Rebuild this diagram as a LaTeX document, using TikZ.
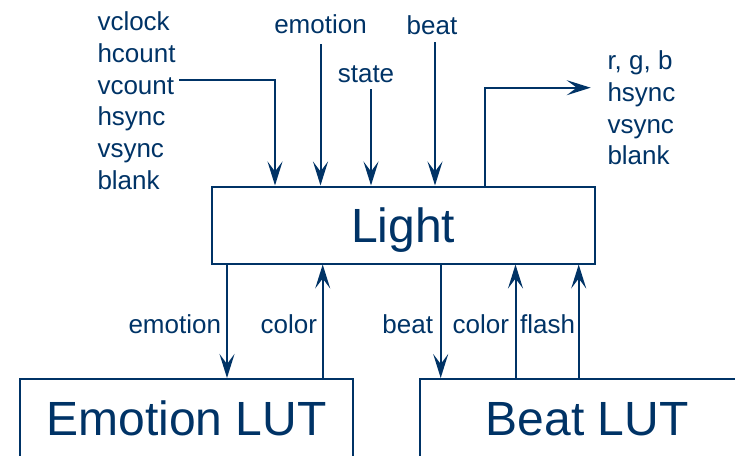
\documentclass[tikz,border=0pt]{standalone}
\usepackage{fontspec}
\setmainfont{Liberation Sans}
\usetikzlibrary{arrows.meta}
\definecolor{navy}{RGB}{0,51,102}
\begin{document}
\begin{tikzpicture}[x=1pt,y=-1pt,line width=2pt,draw=navy,
  every node/.style={text=navy,inner sep=0pt},
  sm/.style={font=\fontsize{26}{31.8}\selectfont},
  big/.style={font=\fontsize{48}{56}\selectfont,text height=34.5pt,text depth=0pt},
  blk/.style={draw=navy,line width=2pt,rectangle,minimum height=78pt},
  arr/.style={draw=navy,line width=2pt,-{Stealth[length=24pt,width=15pt,inset=10pt]}}]
\useasboundingbox (0,0) rectangle (735,455);
\clip (0,0) rectangle (735,455);

% boxes
\node[blk,big,minimum width=383pt,minimum height=77pt] (light) at (403.25,225) {Light};
\node[blk,big,minimum width=333pt] (elut) at (186.5,418) {Emotion LUT};
\node[blk,big,minimum width=334pt] (blut) at (587,418) {Beat LUT};

% top labels
\node[sm,anchor=north west,align=left] (inl) at (96.5,10.7) {vclock\\hcount\\vcount\\hsync\\vsync\\blank};
\node[sm,anchor=north west,align=left] (outl) at (606.5,49.7) {r, g, b\\hsync\\vsync\\blank};
\node[sm,anchor=base] (emo) at (320.5,33) {emotion};
\node[sm,anchor=base] (st) at (366,82) {state};
\node[sm,anchor=base] (bt) at (432,34) {beat};

\coordinate (vc) at (179,80);
\coordinate (oe) at (590.7,87.7);

% top connectors
\draw[arr] ([yshift=-10pt]emo.south) -- (emo.south |- light.north);
\draw[arr] ([xshift=5pt,yshift=-6pt]st.south) -- ([xshift=5pt]st.south |- light.north);
\draw[arr] ([xshift=3pt,yshift=-7pt]bt.south) -- ([xshift=3pt]bt.south |- light.north);
\draw[arr] (vc) -| (275,0 |- light.north);
\draw[arr] (485,0 |- light.north) |- (oe);

% bottom labels
\node[sm,anchor=base east] (l1) at (222,333) {emotion};
\node[sm,anchor=base east] (l2) at (318,333) {color};
\node[sm,anchor=base east] (l3) at (434,333) {beat};
\node[sm,anchor=base east] (l4) at (510,333) {color};
\node[sm,anchor=base east] (l5) at (576,333) {flash};

% bottom connectors
\draw[arr] (227,0 |- light.south) -- (227,0 |- elut.north);
\draw[arr] (322.7,0 |- elut.north) -- (322.7,0 |- light.south);
\draw[arr] (440.7,0 |- light.south) -- (440.7,0 |- blut.north);
\draw[arr] (515.5,0 |- blut.north) -- (515.5,0 |- light.south);
\draw[arr] (578.7,0 |- blut.north) -- (578.7,0 |- light.south);
\end{tikzpicture}
\end{document}
